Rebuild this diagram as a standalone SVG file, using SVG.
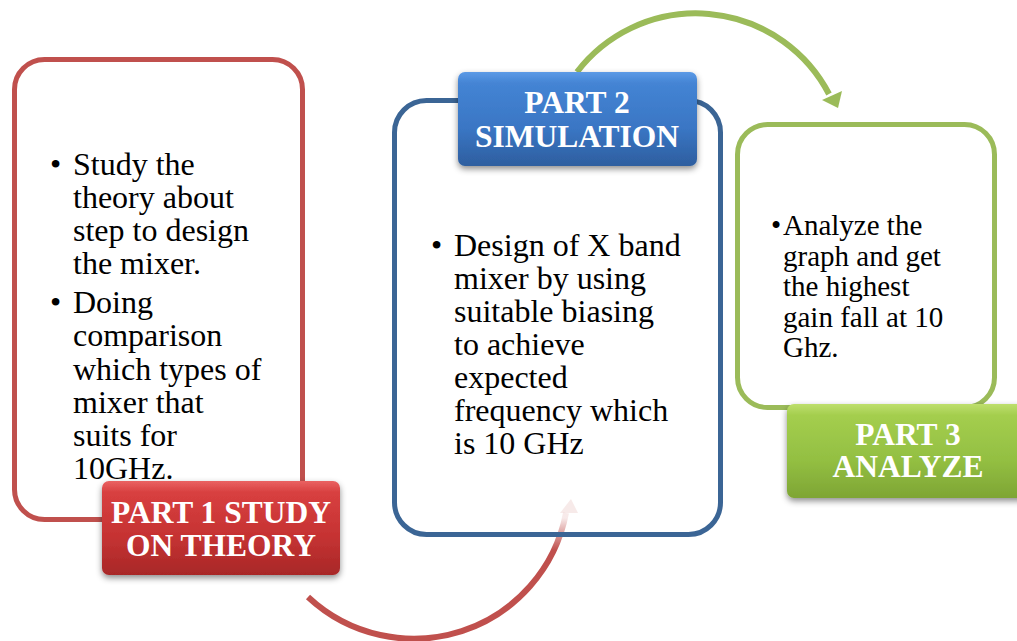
<svg xmlns="http://www.w3.org/2000/svg" width="1017" height="641" viewBox="0 0 1017 641">
<style>
.body{font-family:"Liberation Serif","Times New Roman",serif;font-size:32px;fill:#000}
.small{font-size:29px}
.lbl{font-family:"Liberation Serif","Times New Roman",serif;font-size:31.5px;font-weight:bold;fill:#fff;text-anchor:middle}
.frame{fill:none;stroke-width:5}
</style>
<defs>
<linearGradient id="gRed" x1="0" y1="0" x2="0" y2="1">
<stop offset="0" stop-color="#EA6262"/><stop offset="0.12" stop-color="#D84040"/><stop offset="0.6" stop-color="#C53232"/><stop offset="1" stop-color="#A82828"/>
</linearGradient>
<linearGradient id="gBlue" x1="0" y1="0" x2="0" y2="1">
<stop offset="0" stop-color="#5C9AE6"/><stop offset="0.12" stop-color="#4484D4"/><stop offset="0.6" stop-color="#3A76C4"/><stop offset="1" stop-color="#2D5E9F"/>
</linearGradient>
<linearGradient id="gGreen" x1="0" y1="0" x2="0" y2="1">
<stop offset="0" stop-color="#BEDF6C"/><stop offset="0.12" stop-color="#A4CE4E"/><stop offset="0.6" stop-color="#93BF42"/><stop offset="1" stop-color="#7EA534"/>
</linearGradient>
<linearGradient id="gFade" gradientUnits="userSpaceOnUse" x1="0" y1="550" x2="0" y2="518">
<stop offset="0" stop-color="#C0504D" stop-opacity="1"/><stop offset="1" stop-color="#C0504D" stop-opacity="0.12"/>
</linearGradient>
<filter id="sh" x="-10%" y="-10%" width="120%" height="130%">
<feDropShadow dx="0" dy="3" stdDeviation="3" flood-color="#000" flood-opacity="0.45"/>
</filter>
</defs>

<g id="connectors">
<path d="M 308 597 A 155 155 0 0 0 566 513" fill="none" stroke="url(#gFade)" stroke-width="6"/>
<polygon points="560,513 578,513 571,499" fill="#C0504D" fill-opacity="0.12"/>
<path d="M 577 72 A 150 150 0 0 1 829 94" fill="none" stroke="#9BBB59" stroke-width="6"/>
<polygon points="822,100 842,91 838,108" fill="#9BBB59"/>
</g>

<g id="part1">
<rect class="frame" x="14.5" y="59.5" width="288" height="460" rx="30" stroke="#C0504D"/>
<text class="body"><tspan x="50" y="175">•</tspan><tspan x="73" y="175">Study the</tspan><tspan x="73" y="208">theory about</tspan><tspan x="73" y="241">step to design</tspan><tspan x="73" y="274">the mixer.</tspan><tspan x="50" y="313">•</tspan><tspan x="73" y="313">Doing</tspan><tspan x="73" y="346">comparison</tspan><tspan x="73" y="380">which types of</tspan><tspan x="73" y="413">mixer that</tspan><tspan x="73" y="446">suits for</tspan><tspan x="73" y="479">10GHz.</tspan></text>
<rect x="102" y="481" width="238" height="94" rx="7" fill="url(#gRed)" filter="url(#sh)"/>
<text class="lbl"><tspan x="221" y="523">PART 1 STUDY</tspan><tspan x="221" y="556">ON THEORY</tspan></text>
</g>

<g id="part2">
<rect class="frame" x="394.5" y="100.5" width="326" height="434" rx="32" stroke="#3B6595"/>
<text class="body"><tspan x="431" y="256">•</tspan><tspan x="454" y="256">Design of X band</tspan><tspan x="454" y="289">mixer by using</tspan><tspan x="454" y="322">suitable biasing</tspan><tspan x="454" y="355">to achieve</tspan><tspan x="454" y="388">expected</tspan><tspan x="454" y="421">frequency which</tspan><tspan x="454" y="454">is 10 GHz</tspan></text>
<rect x="458" y="72" width="239" height="94" rx="7" fill="url(#gBlue)" filter="url(#sh)"/>
<text class="lbl"><tspan x="577" y="113">PART 2</tspan><tspan x="577" y="147">SIMULATION</tspan></text>
</g>

<g id="part3">
<rect class="frame" x="737.5" y="124.5" width="257" height="283" rx="30" stroke="#9BBB59"/>
<text class="body small"><tspan x="771" y="235">•</tspan><tspan x="783" y="235">Analyze the</tspan><tspan x="783" y="266">graph and get</tspan><tspan x="783" y="296">the highest</tspan><tspan x="783" y="327">gain fall at 10</tspan><tspan x="783" y="357">Ghz.</tspan></text>
<rect x="787" y="404" width="243" height="94" rx="7" fill="url(#gGreen)" filter="url(#sh)"/>
<text class="lbl"><tspan x="908" y="445">PART 3</tspan><tspan x="908" y="477">ANALYZE</tspan></text>
</g>
</svg>
